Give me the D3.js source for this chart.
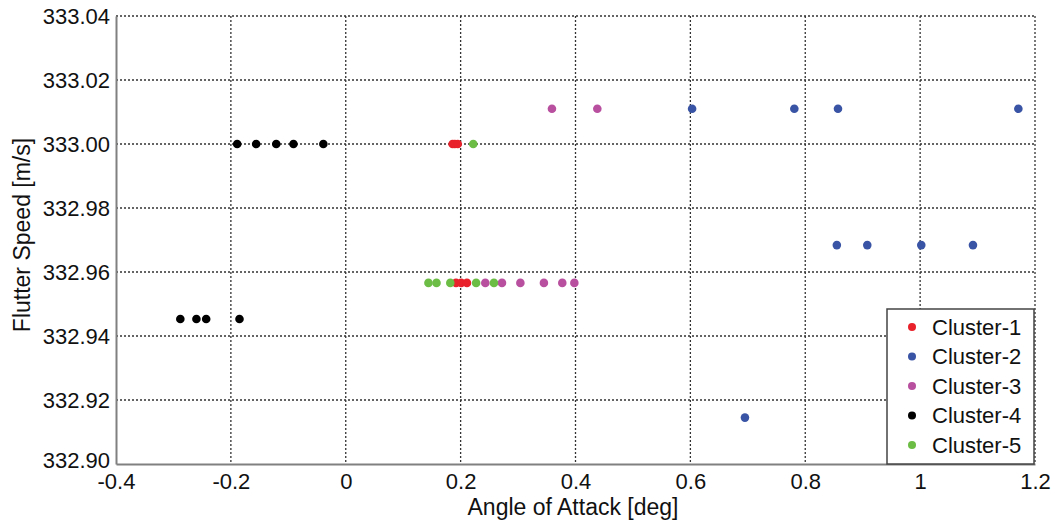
<!DOCTYPE html>
<html>
<head>
<meta charset="utf-8">
<script src="https://d3js.org/d3.v7.min.js"></script>
<style>
  body { margin: 0; background: #fff; }
  text { font-family: "Liberation Sans", Arial, sans-serif; }
</style>
</head>
<body>
<svg id="chart" width="1055" height="522"></svg>
<script>
  // cluster data: [angle of attack, flutter speed]
  const cluster1 = [[0.186, 333.0], [0.190, 333.0], [0.195, 333.0],
    [0.192, 332.9566], [0.201, 332.9566], [0.211, 332.9566]];
  const cluster2 = [[0.603, 333.011], [0.781, 333.011], [0.857, 333.011], [1.171, 333.011],
    [0.855, 332.9684], [0.908, 332.9684], [1.002, 332.9684], [1.092, 332.9684],
    [0.695, 332.9145]];
  const cluster3 = [[0.359, 333.011], [0.438, 333.011],
    [0.243, 332.9566], [0.272, 332.9566], [0.304, 332.9566], [0.345, 332.9566],
    [0.377, 332.9566], [0.398, 332.9566]];
  const cluster4 = [[-0.189, 333.0], [-0.156, 333.0], [-0.121, 333.0], [-0.091, 333.0], [-0.039, 333.0],
    [-0.288, 332.9453], [-0.260, 332.9453], [-0.243, 332.9453], [-0.185, 332.9453]];
  const cluster5 = [[0.222, 333.0],
    [0.144, 332.9566], [0.158, 332.9566], [0.182, 332.9566], [0.227, 332.9566], [0.258, 332.9566]];

  const seriesNames = ['Cluster-1', 'Cluster-2', 'Cluster-3', 'Cluster-4', 'Cluster-5'];
  const seriesColors = ['#e8212b', '#3a54a5', '#b94f9f', '#000000', '#6cbd45'];
  const xTicks = [-0.4, -0.2, 0, 0.2, 0.4, 0.6, 0.8, 1, 1.2];
  const yTicks = [332.90, 332.92, 332.94, 332.96, 332.98, 333.00, 333.02, 333.04];

  (function () {
    const series = [cluster1, cluster2, cluster3, cluster4, cluster5];

    const left = 116, right = 1035, top = 16, bottom = 464;
    const svg = d3.select('#chart');

    const x = d3.scaleLinear().domain([-0.4, 1.2]).range([left, right]);
    const y = d3.scaleLinear().domain([332.90, 333.04]).range([bottom, top]);

    // grid
    const grid = svg.append('g');
    grid.selectAll('.vg').data(xTicks.slice(1)).enter().append('line')
      .attr('x1', d => x(d)).attr('x2', d => x(d))
      .attr('y1', top).attr('y2', bottom)
      .attr('stroke', '#333').attr('stroke-width', 1.3).attr('stroke-dasharray', '2,2');
    grid.selectAll('.hg').data(yTicks.slice(1)).enter().append('line')
      .attr('x1', left).attr('x2', right)
      .attr('y1', d => y(d)).attr('y2', d => y(d))
      .attr('stroke', '#333').attr('stroke-width', 1.3).attr('stroke-dasharray', '2,2');

    // axes (hyphen minus like the original)
    let fx = d => d3.format('~g')(d).replace('\u2212', '-');
    let xAxis = svg.append('g').attr('transform', 'translate(0,' + bottom + ')')
      .call(d3.axisBottom(x).tickValues(xTicks).tickFormat(fx).tickSize(0).tickPadding(8));
    let yAxis = svg.append('g').attr('transform', 'translate(' + left + ',0)')
      .call(d3.axisLeft(y).tickValues(yTicks).tickFormat(d3.format('.2f')).tickSize(0).tickPadding(6));
    [xAxis, yAxis].forEach(a => {
      a.select('.domain').attr('stroke', '#808080').attr('stroke-width', 2);
      a.selectAll('text').attr('font-size', 22).attr('fill', '#111')
        .attr('font-family', '"Liberation Sans", Arial, sans-serif');
    });
    xAxis.selectAll('text').attr('dy', '0.75em');
    yAxis.selectAll('text').attr('dy', d => d == 332.90 ? '0.15em' : '0.35em');

    // points
    series.forEach((pts, i) => {
      svg.append('g').selectAll('circle').data(pts).enter().append('circle')
        .attr('cx', d => x(d[0]))
        .attr('cy', d => y(d[1]))
        .attr('r', 4.3)
        .attr('fill', seriesColors[i]);
    });

    // axis titles
    svg.append('text')
      .attr('x', 573).attr('y', 515)
      .attr('text-anchor', 'middle').attr('font-size', 23).attr('fill', '#111')
      .text('Angle of Attack [deg]');
    svg.append('text')
      .attr('transform', 'translate(30,235) rotate(-90)')
      .attr('text-anchor', 'middle').attr('font-size', 23).attr('fill', '#111')
      .text('Flutter Speed [m/s]');

    // legend
    let lg = svg.append('g').attr('transform', 'translate(887,309)');
    lg.append('rect').attr('width', 147).attr('height', 155)
      .attr('fill', '#fff').attr('stroke', '#444').attr('stroke-width', 1.5);
    let items = lg.selectAll('.item').data(seriesNames).enter().append('g')
      .attr('transform', (d, i) => 'translate(0,' + (18 + i * 29.5) + ')');
    items.append('circle').attr('cx', 25).attr('cy', 0).attr('r', 4)
      .attr('fill', (d, i) => seriesColors[i]);
    items.append('text').attr('x', 45).attr('dy', '0.35em')
      .attr('font-size', 22).attr('fill', '#111').text(d => d);
  })();
</script>
</body>
</html>
